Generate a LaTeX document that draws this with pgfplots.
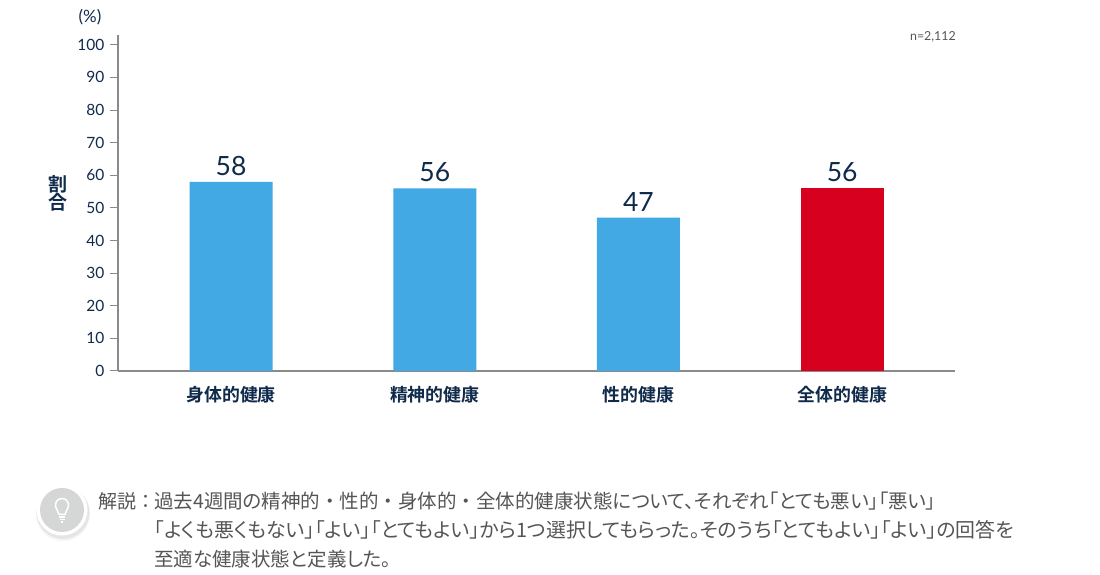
\documentclass[border=0pt]{standalone}
\usepackage{pgfplots}
\pgfplotsset{compat=1.18}
\usepackage{fontspec}
\setmainfont{Lato}
\newfontfamily\jp[RawFeature=+palt]{Noto Sans CJK JP}
\newfontfamily\jpf{Noto Sans CJK JP}
\newfontfamily\jpb[RawFeature=+palt]{Noto Sans CJK JP Bold}
\definecolor{navy}{HTML}{0F2A4A}
\definecolor{barblue}{HTML}{42A9E5}
\definecolor{barred}{HTML}{D7001E}
\definecolor{axgray}{HTML}{8A8A8A}
\definecolor{note}{HTML}{555555}
\definecolor{iconfill}{HTML}{D5D7D7}
\newcommand{\dt}{{\jpf ・}}
\begin{document}
\begin{tikzpicture}[x=1pt,y=1pt]
\path (0,0) rectangle (1100,575);
\begin{axis}[
  at={(118pt,204pt)}, anchor=south west,
  scale only axis, width=837pt, height=336pt,
  xmin=-0.555, xmax=3.554, ymin=0, ymax=103,
  axis lines=left, axis line style={draw=axgray, line width=1.3pt, -},
  ytick={0,10,...,100},
  xtick={0,1,2,3},
  xticklabels={身体的健康,精神的健康,性的健康,全体的健康},
  x tick label style={font=\jpb\fontsize{17.9}{18}\selectfont, text=navy, yshift=-4pt},
  y tick label style={font=\fontsize{15.5}{18}\selectfont, text=navy, xshift=-2pt},
  /pgf/number format/assume math mode=true,
  major tick length=8pt,
  xtick style={draw=none},
  ytick style={draw=axgray, line width=1pt},
  tick align=outside,
  clip=false,
  bar width=83pt,
  ybar, bar shift=0pt,
  nodes near coords,
  every node near coord/.style={font=\fontsize{26.5}{28}\selectfont, text=navy, anchor=south, yshift=3pt},
]
\addplot[draw=none, fill=barblue] coordinates {(0,58) (1,56) (2,47)};
\addplot[draw=none, fill=barred] coordinates {(3,56)};
\end{axis}
\node[text=navy, font=\fontsize{17}{18}\selectfont] at (90,558) {(\%)};
\node[text=note, font=\fontsize{12.4}{15}\selectfont, anchor=east, inner sep=0pt] at (956,538) {n=2,112};
\node[text=navy, font=\jpb\fontsize{19}{19}\selectfont, align=center, inner sep=0pt] at (58,382) {割\\[-1pt]合};
% hint icon
\fill[black!4] (63,61) circle (27);
\fill[black!10] (63,62.5) circle (26.5);
\fill[white] (62,65) circle (25.5);
\fill[iconfill] (62,65) circle (22);
\draw[white, line width=1.5pt] (59,60.5) .. controls (58.8,64) and (55.5,65.5) .. (55.5,70) arc (180:0:6.5) .. controls (68.5,65.5) and (65.2,64) .. (65,60.5) -- cycle;
\draw[white, line width=1.2pt] (59,58) -- (65,58) (59.5,55.5) -- (64.5,55.5) (61,53) -- (63,53);
% explanation
\node[anchor=west, inner sep=0pt, text=note, font=\jpf\fontsize{19}{21}\selectfont] at (98,74) {解説：};
\node[anchor=west, inner sep=0pt, text=note, font=\jp\fontsize{19.5}{21}\selectfont] at (154,74) {過去4週間の精神的\dt 性的\dt 身体的\dt 全体的健康状態について、それぞれ「とても悪い」「悪い」};
\node[anchor=west, inner sep=0pt, text=note, font=\jp\fontsize{19.9}{21}\selectfont] at (154,45) {「よくも悪くもない」「よい」「とてもよい」から1つ選択してもらった。そのうち「とてもよい」「よい」の回答を};
\node[anchor=west, inner sep=0pt, text=note, font=\jp\fontsize{19.5}{21}\selectfont] at (154,16) {至適な健康状態と定義した。};
\end{tikzpicture}
\end{document}
